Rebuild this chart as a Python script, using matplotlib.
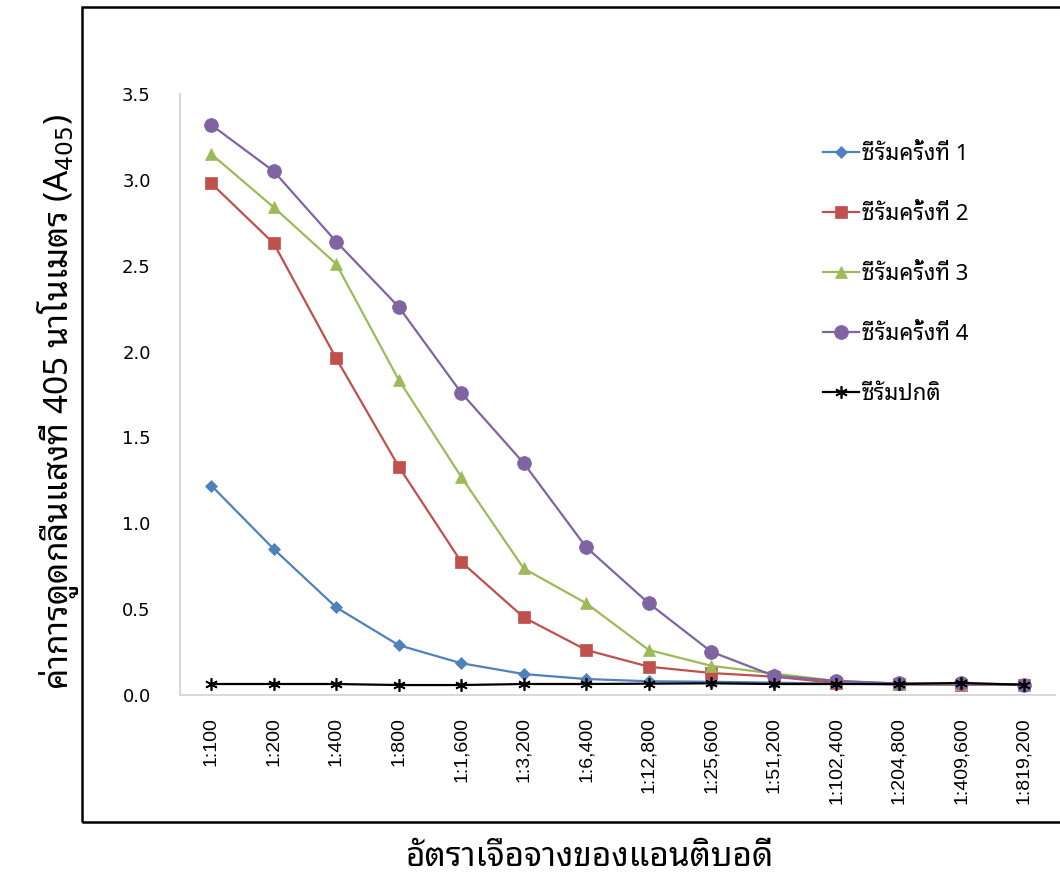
import matplotlib
matplotlib.use('Agg')
import matplotlib.pyplot as plt
from matplotlib.patches import Rectangle

thai = ['Noto Sans Thai Looped', 'Noto Sans Thai', 'Sarabun', 'DejaVu Sans']
plt.rcParams['font.family'] = thai
plt.rcParams['mathtext.fontset'] = 'dejavusans'

dilutions = ['1:100', '1:200', '1:400', '1:800', '1:1,600', '1:3,200', '1:6,400',
             '1:12,800', '1:25,600', '1:51,200', '1:102,400', '1:204,800',
             '1:409,600', '1:819,200']

serum1 = [1.22, 0.85, 0.51, 0.29, 0.185, 0.122, 0.093, 0.08, 0.077, 0.072, 0.066, 0.062, 0.062, 0.06]
serum2 = [2.98, 2.63, 1.96, 1.33, 0.775, 0.452, 0.262, 0.165, 0.128, 0.107, 0.07, 0.062, 0.06, 0.06]
serum3 = [3.15, 2.84, 2.51, 1.835, 1.27, 0.737, 0.534, 0.262, 0.17, 0.125, 0.082, 0.066, 0.065, 0.06]
serum4 = [3.32, 3.05, 2.64, 2.26, 1.76, 1.35, 0.86, 0.534, 0.252, 0.112, 0.082, 0.067, 0.067, 0.06]
normal = [0.064, 0.064, 0.064, 0.058, 0.058, 0.064, 0.064, 0.066, 0.068, 0.064, 0.064, 0.064, 0.07, 0.06]

labels = ['ซีรัมครั้งที่ 1', 'ซีรัมครั้งที่ 2', 'ซีรัมครั้งที่ 3', 'ซีรัมครั้งที่ 4', 'ซีรัมปกติ']
colors = ['#4F81BD', '#C0504D', '#9BBB59', '#8064A2', '#000000']
markers = ['D', 's', '^', 'o', (6, 2, 0)]
msizes = [6, 9, 9, 10, 9]

fig = plt.figure(figsize=(10.6, 8.82), dpi=100)
ax = fig.add_axes([180/1060, 1-695/882, 875/1060, 601/882])

x = [i + 0.5 for i in range(len(dilutions))]
for vals, lab, c, m, ms in zip([serum1, serum2, serum3, serum4, normal], labels, colors, markers, msizes):
    ax.plot(x, vals, color=c, marker=m, markersize=ms, lw=1.6,
            markeredgecolor=c, markeredgewidth=1.2 if lab == labels[4] else 0.5, label=lab)

ax.set_xlim(0, len(dilutions))
ax.set_ylim(0, 3.5)
ax.set_yticks([0, 0.5, 1.0, 1.5, 2.0, 2.5, 3.0, 3.5])
ax.set_yticklabels(['%.1f' % v for v in ax.get_yticks()], family=['DejaVu Sans'])
ax.set_xticks(x)
ax.set_xticklabels(dilutions, rotation=90, family=['Liberation Sans', 'DejaVu Sans'])
ax.tick_params(axis='y', length=0, pad=21, labelsize=13)
ax.tick_params(axis='x', length=0, pad=16, labelsize=14)
for s in ['top', 'right']:
    ax.spines[s].set_visible(False)
for s in ['left', 'bottom']:
    ax.spines[s].set_color('#d9d9d9')
    ax.spines[s].set_linewidth(1.5)

leg = ax.legend(loc='upper left', bbox_to_anchor=(803/1060, 1-124/882),
                bbox_transform=fig.transFigure, frameon=False, fontsize=16,
                labelspacing=1.75, handlelength=1.6, handletextpad=0.15)

fig.text(58/1060, 1-402/882, 'ค่าการดูดกลืนแสงที่ 405 นาโนเมตร (A$_{405}$)',
         rotation=90, ha='center', va='center', fontsize=24, weight='medium')
fig.text(590/1060, 1-858/882, 'อัตราเจือจางของแอนติบอดี', ha='center', va='center',
         fontsize=24, weight='medium')

fig.patches.append(Rectangle((82/1060, 1-822/882), 1.0, 815/882, transform=fig.transFigure,
                             fill=False, edgecolor='black', lw=1.8, clip_on=False))

fig.savefig('out.png', dpi=100)
